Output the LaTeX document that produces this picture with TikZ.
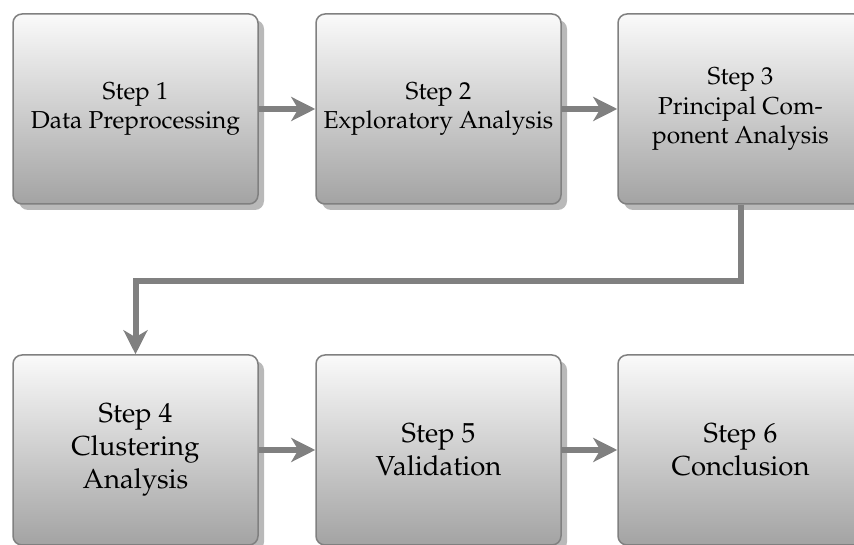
\documentclass[tikz,border=0pt]{standalone}
\IfFileExists{mathpazo.sty}{\usepackage[T1]{fontenc}\usepackage{mathpazo}}{\usepackage{fontspec}\setmainfont{Liberation Serif}}
\usetikzlibrary{arrows.meta,shadows}
\begin{document}
\begin{tikzpicture}[x=1pt,y=1pt,
 stepbox/.style={draw=gray, line width=1.5pt, rounded corners=9pt, top color=gray!4, bottom color=gray!72,
   minimum width=245pt, minimum height=190pt, inner sep=0pt, align=center,
   font=\fontsize{24.5}{29.5}\selectfont,
   drop shadow={shadow xshift=6pt, shadow yshift=-6pt, fill=gray!55, opacity=1, draw=none}},
 bigtext/.style={font=\fontsize{27.5}{33}\selectfont},
 conn/.style={draw=gray, line width=6pt, -{Stealth[length=24pt,width=24pt,inset=7pt]}}]
\useasboundingbox (0,0) rectangle (854,545);
\clip (0,0) rectangle (854,545);
\node[stepbox] (s1) at (135.5,436) {Step 1\\Data Preprocessing};
\node[stepbox] (s2) at (438.5,436) {Step 2\\Exploratory Analysis};
\node[stepbox] (s3) at (740.5,436) {Step 3\\Principal Com-\\ponent Analysis};
\node[stepbox,bigtext] (s4) at (135.5,95) {Step 4\\Clustering\\Analysis};
\node[stepbox,bigtext] (s5) at (438.5,95) {Step 5\\Validation};
\node[stepbox,bigtext] (s6) at (740.5,95) {Step 6\\Conclusion};
\draw[conn] (s1.east) -- (s2.west);
\draw[conn] (s2.east) -- (s3.west);
\draw[conn] (s4.east) -- (s5.west);
\draw[conn] (s5.east) -- (s6.west);
\draw[conn] (s3.south) -- ++(0,-76) coordinate (bend) -| (s4.north);
\end{tikzpicture}
\end{document}
